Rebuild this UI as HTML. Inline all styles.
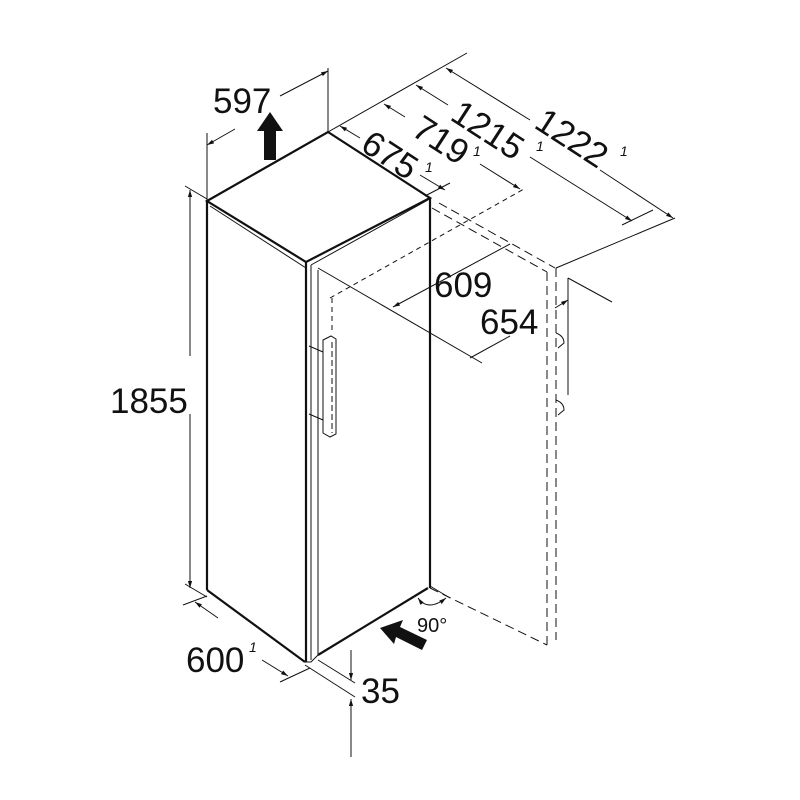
<!DOCTYPE html>
<html><head><style>body{margin:0;background:#fff}svg{display:block}text{font-family:"Liberation Sans",sans-serif;fill:#111}</style></head>
<body>
<svg width="800" height="800" viewBox="0 0 800 800" xmlns="http://www.w3.org/2000/svg">
<defs>
<marker id="a" viewBox="0 0 10 10" refX="10" refY="5" markerWidth="7" markerHeight="7" orient="auto-start-reverse"><path d="M0,2 L10,5 L0,8 z" fill="#111"/></marker>
</defs>
<g fill="none" stroke="#111" stroke-width="1">
<g stroke-dasharray="9,5">
<line x1="439" y1="203" x2="555" y2="268"/>
<line x1="432" y1="208" x2="547" y2="272"/>
<line x1="547" y1="272" x2="547" y2="645"/>
<line x1="556" y1="268" x2="556" y2="640"/>
<line x1="430" y1="588" x2="547" y2="645"/>
</g>
<g stroke-dasharray="5,4">
<line x1="330" y1="298" x2="524" y2="189"/>
<line x1="332" y1="298" x2="332" y2="330"/>
</g>
<line x1="556" y1="268" x2="675" y2="218"/>
<line x1="568" y1="278" x2="568" y2="395"/>
<line x1="568" y1="278" x2="612" y2="302"/>
<path d="M556 333 q8 3 8 10 l-6 5 M556 400 q8 3 8 10 l-6 5"/>
<g stroke-width="2.2">
<polygon points="207,201 328,132 430,198 306,262"/>
<line x1="207" y1="201" x2="207" y2="590"/>
<line x1="207" y1="590" x2="305" y2="662"/>
<line x1="430" y1="198" x2="430" y2="588"/>
<line x1="306" y1="262" x2="306" y2="662"/>
<line x1="318" y1="655" x2="428" y2="588"/>
</g>
<line x1="210" y1="206" x2="306" y2="268"/>
<line x1="311" y1="265" x2="428" y2="200"/>
<line x1="311" y1="265" x2="311" y2="660"/>
<line x1="318" y1="270" x2="318" y2="655"/>
<path d="M305 662 L311 662 L318 655"/>
<path d="M323 340 l8 -4 l5 3 l0 95 l-6 3 l-7 -4 z"/>
<line x1="309" y1="346" x2="323" y2="352"/>
<line x1="309" y1="414" x2="323" y2="420"/>
<line x1="332" y1="342" x2="332" y2="433" stroke-dasharray="6,3"/>
<line x1="207" y1="201" x2="207" y2="133"/>
<line x1="328" y1="132" x2="328" y2="68"/>
<line x1="207" y1="145" x2="235" y2="129" marker-start="url(#a)"/>
<line x1="280" y1="96" x2="328" y2="71" marker-end="url(#a)"/>
<line x1="185" y1="186" x2="207" y2="199"/>
<line x1="190" y1="190" x2="190" y2="356" marker-start="url(#a)"/>
<line x1="190" y1="414" x2="190" y2="588" marker-end="url(#a)"/>
<line x1="185" y1="584" x2="207" y2="597"/>
<line x1="183" y1="605" x2="207" y2="596"/>
<line x1="195" y1="602" x2="218" y2="618" marker-start="url(#a)"/>
<line x1="262" y1="660" x2="288" y2="676" marker-end="url(#a)"/>
<line x1="280" y1="682" x2="310" y2="668"/>
<line x1="318" y1="660" x2="355" y2="683"/>
<line x1="305" y1="665" x2="355" y2="697"/>
<line x1="351" y1="650" x2="351" y2="680" marker-end="url(#a)"/>
<line x1="351" y1="757" x2="351" y2="699" marker-end="url(#a)"/>
<line x1="328" y1="132" x2="467" y2="53"/>
<line x1="340" y1="126" x2="360" y2="138" marker-start="url(#a)"/>
<line x1="420" y1="175" x2="445" y2="190" marker-end="url(#a)"/>
<line x1="425" y1="196" x2="450" y2="183"/>
<line x1="384" y1="104" x2="405" y2="117" marker-start="url(#a)"/>
<line x1="480" y1="164" x2="520" y2="189" marker-end="url(#a)"/>
<line x1="416" y1="85" x2="448" y2="105" marker-start="url(#a)"/>
<line x1="530" y1="157" x2="632" y2="221" marker-end="url(#a)"/>
<line x1="446" y1="68" x2="530" y2="120" marker-start="url(#a)"/>
<line x1="600" y1="170" x2="673" y2="218" marker-end="url(#a)"/>
<line x1="622" y1="225" x2="653" y2="210"/>
<line x1="318" y1="268" x2="482" y2="363"/>
<line x1="393" y1="307" x2="510" y2="244" marker-start="url(#a)"/>
<line x1="470" y1="358" x2="510" y2="336"/>
<line x1="555" y1="308" x2="568" y2="300" marker-end="url(#a)"/>
<path d="M418 598 q10 14 28 0" marker-start="url(#a)" marker-end="url(#a)"/>
<line x1="430" y1="586" x2="450" y2="598"/>
</g>
<polygon points="270,112 283,131 276,131 276,160 264,160 264,131 257,131" fill="#111"/>
<polygon points="380,628 403,620 400,627 427,640 422,650 396,637 394,644" fill="#111"/>
<g font-size="35">
<text x="213" y="113">597</text>
<text x="110" y="413">1855</text>
<text x="186" y="672">600</text>
<text x="361" y="703">35</text>
<text x="434" y="297">609</text>
<text x="480" y="334">654</text>
</g>
<g font-size="35" text-anchor="middle">
<text transform="translate(390,155) rotate(33)" dy="12">675</text>
<text transform="translate(441,140) rotate(33)" dy="12">719</text>
<text transform="translate(488,130) rotate(33)" dy="12">1215</text>
<text transform="translate(572,138) rotate(33)" dy="12">1222</text>
</g>
<g font-size="14" font-style="italic">
<text x="249" y="652">1</text>
<text x="425" y="172">1</text>
<text x="473" y="156">1</text>
<text x="536" y="151">1</text>
<text x="620" y="156">1</text>
</g>
<text x="417" y="632" font-size="20">90°</text>
</svg>
</body></html>
